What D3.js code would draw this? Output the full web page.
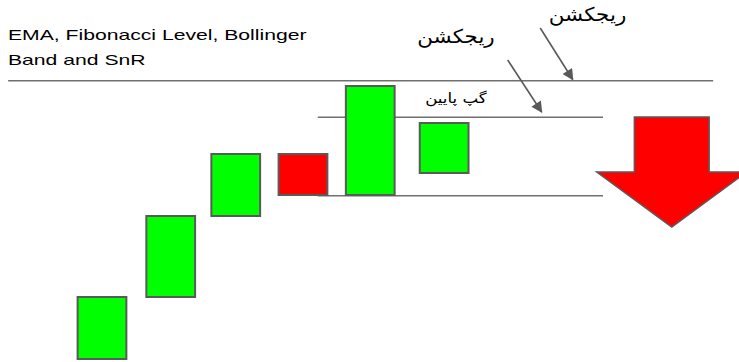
<!DOCTYPE html>
<html lang="en">
<head>
<meta charset="UTF-8">
<script src="https://cdn.jsdelivr.net/npm/d3@7"></script>
<style>
  body { margin: 0; background: #fff; }
  svg { display: block; }
</style>
</head>
<body>
<div id="chart"></div>
<script>
// candles, x is position on a 0..100 time axis, values in price units
var candleX     = [13.8, 23.1, 31.9, 41.0, 50.1, 60.1];
var candleOpen  = [0, 62, 143, 205, 164, 186];
var candleClose = [62, 143, 205, 164, 273, 236];
var candleWidth = 6.6;

// horizontal levels: [x0, x1, price]
var levelStart = [1.1, 43, 43];
var levelEnd   = [96.5, 81.6, 81.6];
var levelPrice = [278.3, 241.7, 163.3];

// big down arrow
var bigArrowX = 90.9, bigArrowShaft = 5.06, bigArrowHead = 10.15;
var bigArrowTop = 242, bigArrowNeck = 187, bigArrowTip = 132;

// rejection callouts
var calloutLabel = ["ریجکشن", "ریجکشن"];
var calloutTextX = [79.5, 61.7];
var calloutTextY = [338, 316];
var calloutFrom  = [[73.1, 331], [68.7, 299]];
var calloutTo    = [[77.5, 279.5], [73.3, 247]];

var gapLabel = "گپ پایین";
var gapX = 61.7, gapY = 256;

var titleLines = ["EMA, Fibonacci Level, Bollinger", "Band and SnR"];

var W = 739, H = 362;
var svg = d3.select("#chart").append("svg")
  .attr("width", W)
  .attr("height", H);

var x = d3.scaleLinear().domain([0, 100]).range([0, 739]);
var y = d3.scaleLinear().domain([0, 280]).range([359, 79]);

// the drawing is stretched sideways, text too
function stretched(tx, ty, sx) {
  return "translate(" + tx + "," + ty + ") scale(" + sx + ",1)";
}

svg.append("defs").append("marker")
  .attr("id", "tip")
  .attr("viewBox", "0 0 10 10")
  .attr("refX", 9).attr("refY", 5)
  .attr("markerWidth", 8).attr("markerHeight", 7)
  .attr("markerUnits", "strokeWidth")
  .attr("orient", "auto")
  .append("path")
  .attr("d", "M0,0 L10,5 L0,10 z")
  .attr("fill", "#595959");

// title
svg.selectAll(".title")
  .data(titleLines)
  .enter().append("text")
  .attr("class", "title")
  .attr("transform", function(d, i) { return stretched(8, 40 + i * 24.5, 1.41); })
  .attr("font-family", "Liberation Sans, Arial, sans-serif")
  .attr("font-size", 15)
  .attr("fill", "#000")
  .text(function(d) { return d; });

// levels
svg.selectAll(".level")
  .data(levelPrice)
  .enter().append("line")
  .attr("class", "level")
  .attr("x1", function(d, i) { return x(levelStart[i]); })
  .attr("x2", function(d, i) { return x(levelEnd[i]); })
  .attr("y1", function(d) { return y(d); })
  .attr("y2", function(d) { return y(d); })
  .attr("stroke", "#707070")
  .attr("stroke-width", 1.6);

// candles
svg.selectAll(".candle")
  .data(candleX)
  .enter().append("rect")
  .attr("class", "candle")
  .attr("x", function(d) { return x(d - candleWidth / 2); })
  .attr("width", x(candleWidth) - x(0))
  .attr("y", function(d, i) { return y(Math.max(candleOpen[i], candleClose[i])); })
  .attr("height", function(d, i) { return Math.abs(y(candleOpen[i]) - y(candleClose[i])); })
  .attr("fill", function(d, i) { return candleClose[i] >= candleOpen[i] ? "#00ff00" : "#ff0000"; })
  .attr("stroke", "#5a5a5a")
  .attr("stroke-width", 2);

// big arrow
var arrowPts = [
  [bigArrowX - bigArrowShaft, bigArrowTop],
  [bigArrowX + bigArrowShaft, bigArrowTop],
  [bigArrowX + bigArrowShaft, bigArrowNeck],
  [bigArrowX + bigArrowHead, bigArrowNeck],
  [bigArrowX, bigArrowTip],
  [bigArrowX - bigArrowHead, bigArrowNeck],
  [bigArrowX - bigArrowShaft, bigArrowNeck]
];
svg.append("path")
  .attr("d", d3.line().x(function(d) { return x(d[0]); }).y(function(d) { return y(d[1]); }).curve(d3.curveLinearClosed)(arrowPts))
  .attr("fill", "#ff0000")
  .attr("stroke", "#5a5a5a")
  .attr("stroke-width", 1.5);

// callouts
svg.selectAll(".callout")
  .data(calloutFrom)
  .enter().append("line")
  .attr("class", "callout")
  .attr("x1", function(d) { return x(d[0]); })
  .attr("y1", function(d) { return y(d[1]); })
  .attr("x2", function(d, i) { return x(calloutTo[i][0]); })
  .attr("y2", function(d, i) { return y(calloutTo[i][1]); })
  .attr("stroke", "#595959")
  .attr("stroke-width", 1.6)
  .attr("marker-end", "url(#tip)");

svg.selectAll(".calloutText")
  .data(calloutLabel)
  .enter().append("text")
  .attr("class", "calloutText")
  .attr("transform", function(d, i) { return stretched(x(calloutTextX[i]), y(calloutTextY[i]), 1.13); })
  .attr("text-anchor", "middle")
  .attr("font-family", "DejaVu Sans, sans-serif")
  .attr("font-size", 19)
  .attr("fill", "#000")
  .text(function(d) { return d; });

svg.append("text")
  .attr("transform", stretched(x(gapX), y(gapY), 1.19))
  .attr("text-anchor", "middle")
  .attr("font-family", "DejaVu Sans, sans-serif")
  .attr("font-size", 14)
  .attr("fill", "#000")
  .text(gapLabel);
</script>
</body>
</html>
